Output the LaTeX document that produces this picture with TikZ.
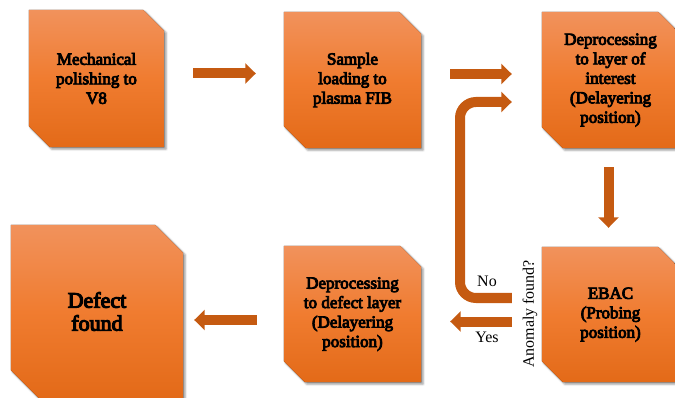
\documentclass[tikz,border=0pt]{standalone}
\usepackage{fontspec}
\setmainfont{Liberation Serif}[BoldFont={Liberation Serif}, BoldFeatures={FakeBold=5}]
\usetikzlibrary{arrows.meta,backgrounds,shadows.blur,calc}

\definecolor{boxtop}{RGB}{241,146,92}
\definecolor{boxmid}{RGB}{240,124,48}
\definecolor{boxbot}{RGB}{227,106,24}
\definecolor{arrowfill}{RGB}{197,90,17}

\tikzset{
  boxtext/.style={align=center, inner sep=0pt, font=\bfseries\fontsize{17}{19.5}\selectfont},
  bigtext/.style={font=\bfseries\fontsize{22}{23}\selectfont},
  boxfill/.style={top color=boxtop, bottom color=boxbot, middle color=boxmid,
    blur shadow={shadow xshift=2pt, shadow yshift=-2pt, shadow blur radius=2pt, shadow opacity=40}},
  blockarrow/.style={draw=arrowfill, line width=10pt,
    -{Triangle[length=10.5pt, width=20pt]}},
  sidelabel/.style={inner sep=0pt, font=\fontsize{16}{18}\selectfont}
}

% chamfered box: [extra style] name, centre x, centre y, width, height, chamfer, text
\newcommand\chambox[8][]{%
  \node[boxtext, #1, minimum width=#5pt, minimum height=#6pt] (#2) at (#3,#4) {#8};
  \begin{scope}[on background layer]
    \fill[boxfill] (#2.north west) -- ([xshift=-#7pt]#2.north east)
      -- ([yshift=-#7pt]#2.north east) -- (#2.south east)
      -- ([xshift=#7pt]#2.south west) -- ([yshift=#7pt]#2.south west) -- cycle;
  \end{scope}
}

\begin{document}
\begin{tikzpicture}[x=1pt, y=-1pt]
  \useasboundingbox (0,0) rectangle (675,398);
  \clip (0,0) rectangle (675,398);

  \chambox{polish}{96.5}{78.5}{135}{137}{21}{Mechanical\\polishing to\\V8}
  \chambox{load}{352.5}{80}{137}{136}{22}{Sample\\loading to\\plasma FIB}
  \chambox{delayer}{610.5}{80}{137}{136}{21}{Deprocessing\\to layer of\\interest\\(Delayering\\position)}
  \chambox{ebac}{610.5}{314.5}{137}{135}{21}{EBAC\\(Probing\\position)}
  \chambox{defect}{352.5}{314}{137}{136}{21}{Deprocessing\\to defect layer\\(Delayering\\position)}
  \chambox[bigtext]{found}{97}{311.5}{172}{173}{28}{Defect\\found}

  % process flow
  \draw[blockarrow, shorten <=29pt, shorten >=28pt]
    ([yshift=5pt]polish.east) -- ([yshift=5pt]polish.east -| load.west);
  \draw[blockarrow, shorten <=29pt, shorten >=30pt]
    ([yshift=6pt]load.east) -- ([yshift=6pt]load.east -| delayer.west);
  \draw[blockarrow, shorten <=19pt, shorten >=19pt]
    ([xshift=-2pt]delayer.south) -- ([xshift=-2pt]ebac.north);

  % decision loop back to delayering
  \coordinate (loopbot) at (460,298);
  \coordinate (looptop) at (460,102);
  \draw[blockarrow, rounded corners=16pt, shorten <=30pt, shorten >=30pt]
    (ebac.west |- loopbot) -- (loopbot) -- (looptop) -- (delayer.west |- looptop);

  \draw[blockarrow, shorten <=30pt, shorten >=29pt]
    ([yshift=-7pt]ebac.west) -- ([yshift=-7pt]ebac.west -| defect.east);
  \draw[blockarrow, shorten <=27pt, shorten >=11pt]
    ([yshift=-6pt]defect.west) -- ([yshift=-6pt]defect.west -| found.east);

  % labels
  \node[sidelabel] (nolabel) at (487,281) {No};
  \node[sidelabel] (yeslabel) at (487,337) {Yes};
  \node[sidelabel, rotate=90] (question) at (530,314) {Anomaly found?};
\end{tikzpicture}
\end{document}
